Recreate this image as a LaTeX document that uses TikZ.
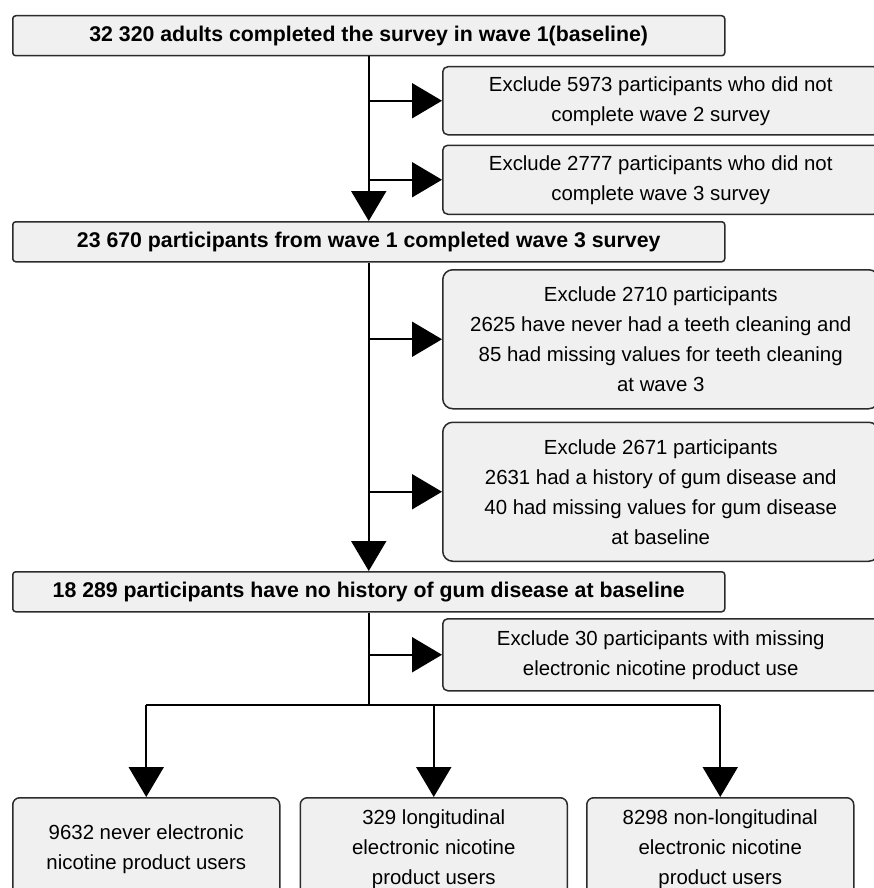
\documentclass[tikz,border=0pt]{standalone}
\usepackage{fontspec}
\setmainfont{Liberation Sans}
\usetikzlibrary{arrows.meta,positioning}
\definecolor{boxfill}{HTML}{F0F0F0}
\definecolor{boxline}{HTML}{2B2B2B}

\begin{document}
\begin{tikzpicture}[
		  x=1pt, y=-1pt, line width=2pt, >={Triangle[length=30pt,width=35pt]},
		  box/.style={draw=boxline, fill=boxfill, line width=1.5pt, align=center, inner sep=0pt, anchor=north west},
		  stage/.style={box, rounded corners=3pt, minimum width=712pt, minimum height=40pt, font=\fontsize{21.3}{30}\selectfont\bfseries},
		  exclude/.style={box, rounded corners=5pt, minimum width=436pt, font=\fontsize{20.4}{30}\selectfont},
		  arm/.style={box, rounded corners=7pt, minimum width=267pt, minimum height=103pt, font=\fontsize{20.4}{30}\selectfont}
		]
		\useasboundingbox (0,0) rectangle (874,888);
		\clip (0,0) rectangle (874,888);
		
		\node[stage] (s1_base) at (12,15) {32 320 adults completed the survey in wave 1(baseline)};
		\node[exclude, minimum height=68pt] (x1_wave2) at (442,66) {Exclude 5973 participants who did not\\complete wave 2 survey};
		\node[exclude, minimum height=69pt, below=9pt of x1_wave2] (x2_wave3) {Exclude 2777 participants who did not\\complete wave 3 survey};
		\node[stage] (s2_wave3) at (12,221) {23 670 participants from wave 1 completed wave 3 survey};
		\node[exclude, rounded corners=10pt, minimum height=139pt] (x3_teeth) at (442,269) {Exclude 2710 participants\\2625 have never had a teeth cleaning and\\85 had missing values for teeth cleaning\\at wave 3};
		\node[exclude, rounded corners=10pt, minimum height=139pt, below=12pt of x3_teeth] (x4_gum) {Exclude 2671 participants\\2631 had a history of gum disease and\\40 had missing values for gum disease\\at baseline};
		\node[stage] (s3_nogum) at (12,571) {18 289 participants have no history of gum disease at baseline};
		\node[exclude, minimum height=72pt] (x5_ends) at (442,618) {Exclude 30 participants with missing\\electronic nicotine product use};
		
		\node[arm] (g1_never) at (12,797) {9632 never electronic\\nicotine product users};
		\node[arm, right=19pt of g1_never] (g2_long) {329 longitudinal\\electronic nicotine\\product users};
		\node[arm, right=18pt of g2_long] (g3_nonlong) {8298 non-longitudinal\\electronic nicotine\\product users};
		
		\draw[->] (s1_base.south) -- (s2_wave3.north);
		\draw[->] (x1_wave2.west -| s1_base.south) -- (x1_wave2.west);
		\draw[->] (x2_wave3.west -| s1_base.south) -- (x2_wave3.west);
		\draw[->] (s2_wave3.south) -- (s3_nogum.north);
		\draw[->] (x3_teeth.west -| s2_wave3.south) -- (x3_teeth.west);
		\draw[->] (x4_gum.west -| s2_wave3.south) -- (x4_gum.west);
		
		\coordinate (split) at ([yshift=-92pt]s3_nogum.south);
		\draw (s3_nogum.south) -- (split);
		\draw[->] (x5_ends.west -| split) -- (x5_ends.west);
		\draw (split -| g1_never.north) -- (split -| g3_nonlong.north);
		\foreach \g in {g1_never, g2_long, g3_nonlong}
		  \draw[->] (split -| \g.north) -- (\g.north);
		\end{tikzpicture}
\end{document}
